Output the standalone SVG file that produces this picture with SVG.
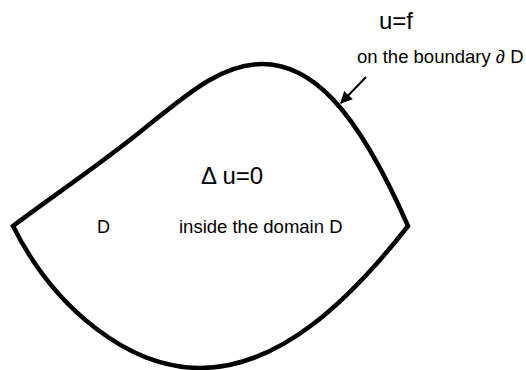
<svg xmlns="http://www.w3.org/2000/svg" width="526" height="370" viewBox="0 0 526 370">
  <style>
    .t { font-family: "Liberation Sans", Arial, sans-serif; fill: #000; }
    .boundary { fill: none; stroke: #000; stroke-width: 4.5; stroke-linejoin: miter; stroke-miterlimit: 10; }
    .conn { fill: none; stroke: #000; stroke-width: 2; }
  </style>
  <defs>
    <marker id="arrow" viewBox="0 0 10 10" refX="9" refY="5" markerWidth="7" markerHeight="6" orient="auto" markerUnits="strokeWidth">
      <path d="M0,0 L10,5 L0,10 Z" fill="#000"/>
    </marker>
  </defs>
  <rect width="526" height="370" fill="#fff"/>
  <g id="domain">
    <path class="boundary" d="M13,226 C50,198 95,168 140,132 C185,96 220,64 262,64 C310,64 355,105 408,226 C350,300 280,368 200,368 C130,368 55,310 13,226 Z"/>
    <text class="t" x="97" y="233" font-size="18">D</text>
    <text class="t" x="201" y="184" font-size="24">Δ u=0</text>
    <text class="t" x="179" y="233" font-size="18.5">inside the domain D</text>
  </g>
  <g id="boundary-label">
    <text class="t" x="379" y="29" font-size="24">u=f</text>
    <text class="t" x="357" y="63" font-size="18.5">on the boundary ∂ D</text>
  </g>
  <g id="connectors">
    <line class="conn" x1="366" y1="77" x2="341" y2="103" marker-end="url(#arrow)"/>
  </g>
</svg>
